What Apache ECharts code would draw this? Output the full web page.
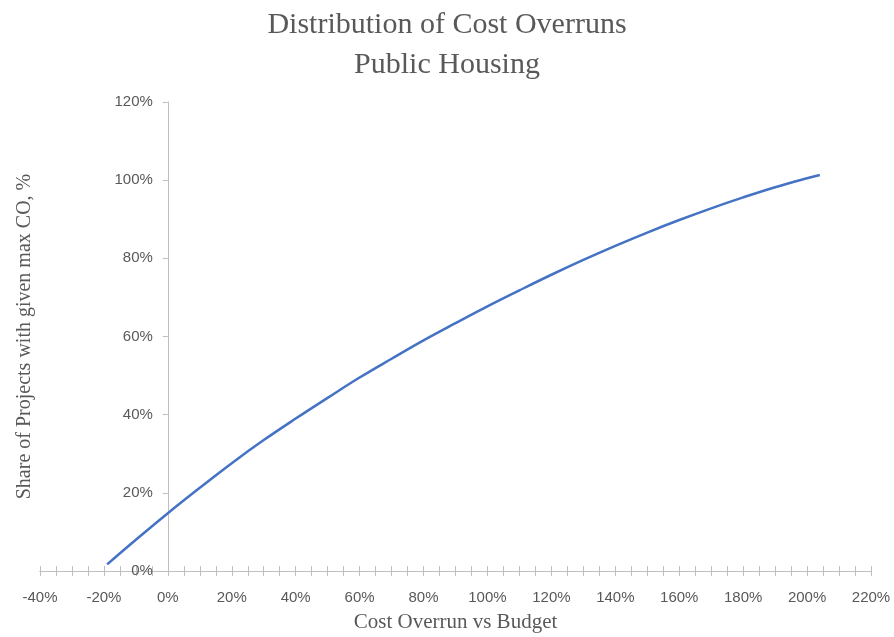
<!DOCTYPE html>
<html>
<head>
<meta charset="utf-8">
<script src="https://cdn.jsdelivr.net/npm/echarts@6/dist/echarts.min.js"></script>
<style>
html,body{margin:0;padding:0;background:#fff;}
#chart{width:894px;height:637px;}
</style>
</head>
<body>
<div id="chart"></div>
<script>
const titleLines = ["Distribution of Cost Overruns", "Public Housing"];
const xAxisTitle = "Cost Overrun vs Budget";
const yAxisTitle = "Share of Projects with given max CO, %";
const overrunX = [-0.19, -0.10, 0.00, 0.10, 0.20, 0.30, 0.40, 0.50, 0.60, 0.70, 0.80, 0.90, 1.00, 1.10, 1.20, 1.30, 1.40, 1.50, 1.60, 1.70, 1.80, 1.90, 2.00, 2.04];
const shareY = [0.017, 0.080, 0.148, 0.213, 0.276, 0.335, 0.390, 0.443, 0.495, 0.543, 0.590, 0.634, 0.677, 0.718, 0.758, 0.796, 0.832, 0.866, 0.898, 0.928, 0.956, 0.982, 1.005, 1.013];

const pct = v => Math.round(v * 100) + '%';
const chart = echarts.init(document.getElementById('chart'), null, {renderer: 'canvas'});
const axisColor = '#bfbfbf';
const textColor = '#595959';
const serif = 'Liberation Serif';
const sans = 'Liberation Sans';
const gridLeft = 40, gridRight = 23;
const xMin = -0.4, xMax = 2.2;
// shift of the value axis so it sits at x = 0 (computed from the x scale)
const yShift = -(0 - xMin) / (xMax - xMin) * (894 - gridLeft - gridRight);

const xBase = {
  type: 'value', min: xMin, max: xMax, interval: 0.2, position: 'bottom',
  axisLine: {onZero: true, lineStyle: {color: axisColor, width: 1}},
  splitLine: {show: false}
};

chart.setOption({
  animation: false,
  title: {
    text: titleLines.join('\n'),
    left: 'center', top: 0,
    textStyle: {fontFamily: serif, fontSize: 30, fontWeight: 'normal', color: textColor, lineHeight: 40}
  },
  grid: {left: gridLeft, right: gridRight, top: 102, bottom: 66, containLabel: false, outerBoundsMode: 'none'},
  xAxis: [
    Object.assign({}, xBase, {
      name: xAxisTitle, nameLocation: 'middle', nameGap: 41,
      nameTextStyle: {fontFamily: serif, fontSize: 21, color: textColor},
      axisTick: {show: true, inside: false, length: 5, lineStyle: {color: axisColor}},
      minorTick: {show: true, splitNumber: 4, length: 5, lineStyle: {color: axisColor}},
      axisLabel: {formatter: pct, fontFamily: sans, fontSize: 15, color: textColor, margin: 19}
    }),
    Object.assign({}, xBase, {
      axisTick: {show: true, inside: true, length: 5, lineStyle: {color: axisColor}},
      minorTick: {show: true, splitNumber: 4, length: 5, lineStyle: {color: axisColor}},
      axisLabel: {show: false}
    })
  ],
  yAxis: {
    type: 'value', min: 0, max: 1.2, interval: 0.2, position: 'left',
    offset: yShift,
    name: yAxisTitle, nameLocation: 'middle', nameGap: 133,
    nameTextStyle: {fontFamily: serif, fontSize: 20, color: textColor},
    axisLine: {show: true, onZero: false, lineStyle: {color: axisColor, width: 1}},
    axisTick: {show: true, inside: false, length: 5, lineStyle: {color: axisColor}},
    axisLabel: {formatter: pct, fontFamily: sans, fontSize: 15, color: textColor, margin: 15},
    splitLine: {show: false}
  },
  series: [{
    type: 'line',
    xAxisIndex: 0,
    data: overrunX.map((x, i) => [x, shareY[i]]),
    smooth: 0.4,
    showSymbol: false,
    lineStyle: {color: '#4472C4', width: 2.5}
  }]
});
</script>
</body>
</html>
